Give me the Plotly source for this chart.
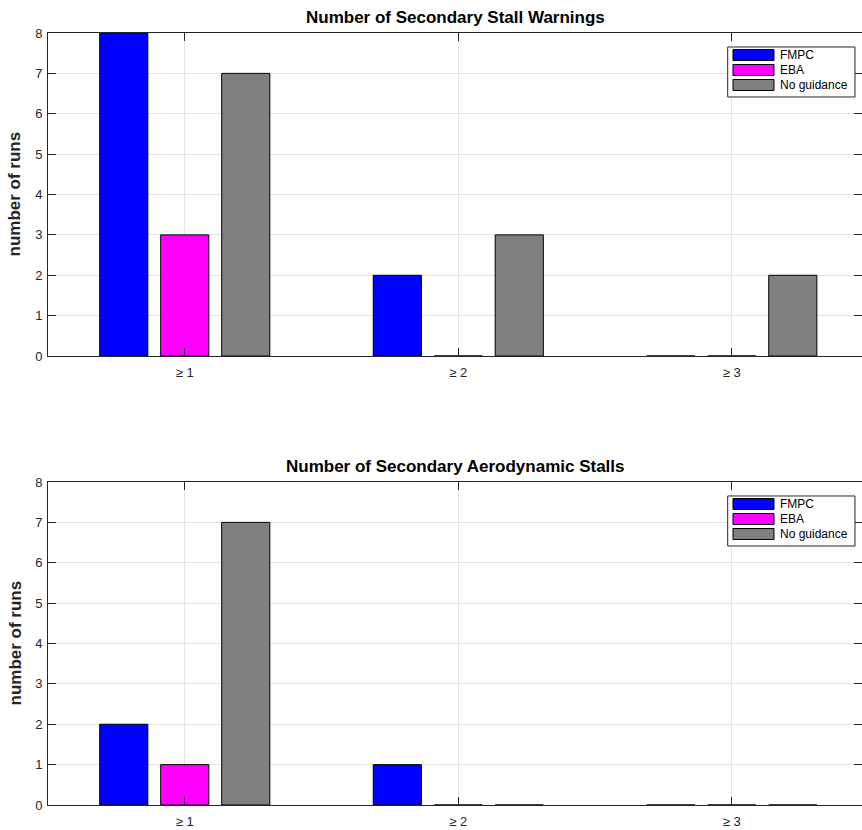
import plotly.graph_objects as go
from plotly.subplots import make_subplots

categories = ["≥ 1", "≥ 2", "≥ 3"]
series_names = ["FMPC", "EBA", "No guidance"]
series_colors = ["#0000FF", "#FF00FF", "#808080"]

warnings_fmpc = [8, 2, 0]
warnings_eba = [3, 0, 0]
warnings_none = [7, 3, 2]

stalls_fmpc = [2, 1, 0]
stalls_eba = [1, 0, 0]
stalls_none = [7, 0, 0]

titles = ["Number of Secondary Stall Warnings", "Number of Secondary Aerodynamic Stalls"]
y_title = "number of runs"
y_ticks = [0, 1, 2, 3, 4, 5, 6, 7, 8]

FONT = "Liberation Sans, Arial, Helvetica, sans-serif"
AXC = "#262626"
GRID = "#e3e3e3"

fig = make_subplots(rows=2, cols=1, vertical_spacing=0.0)

xpos = [1, 2, 3]
panels = [
    [warnings_fmpc, warnings_eba, warnings_none],
    [stalls_fmpc, stalls_eba, stalls_none],
]
for r, vals in enumerate(panels, start=1):
    for name, col, v in zip(series_names, series_colors, vals):
        fig.add_trace(
            go.Bar(
                x=xpos, y=v, name=name,
                marker=dict(color=col, line=dict(color="#000000", width=1)),
                showlegend=False,
            ),
            row=r, col=1,
        )

axis_common = dict(
    showline=True, linecolor=AXC, linewidth=1, mirror="ticks",
    ticks="inside", ticklen=8, tickcolor=AXC, tickwidth=1,
    showgrid=True, gridcolor=GRID, gridwidth=1, zeroline=False,
    tickfont=dict(family=FONT, size=13, color=AXC),
)
for r in (1, 2):
    fig.update_xaxes(
        range=[0.5, 3.476], tickvals=xpos, ticktext=categories,
        ticklabelstandoff=4, row=r, col=1, **axis_common,
    )
    fig.update_yaxes(
        range=[0, 8], tickvals=y_ticks, ticklabelstandoff=2,
        row=r, col=1, **axis_common,
    )

fig.update_layout(
    yaxis=dict(domain=[0.5816, 1.0]),
    yaxis2=dict(domain=[0.0, 0.4184]),
)

shapes = []
for i, t in enumerate(titles):
    xr = "x domain" if i == 0 else "x2 domain"
    yr = "y domain" if i == 0 else "y2 domain"
    fig.add_annotation(
        text="<b>" + t + "</b>", xref=xr, yref=yr,
        x=0.5, y=1.0, yshift=4, xanchor="center", yanchor="bottom", showarrow=False,
        font=dict(family=FONT, size=17, color="#000000"),
    )
    fig.add_annotation(
        text="<b>" + y_title + "</b>", xref=xr, yref=yr,
        x=0.0, y=0.5, xshift=-33, xanchor="center", yanchor="middle",
        textangle=-90, showarrow=False,
        font=dict(family=FONT, size=17, color=AXC),
    )
    # legend box
    shapes.append(dict(type="rect", xref=xr, yref=yr, x0=0.835, x1=0.9914,
                       y0=0.8019, y1=0.9567, line=dict(color="#262626", width=1),
                       fillcolor="#ffffff", layer="above"))
    row_centers = [0.9319, 0.8854, 0.8390]
    for name, col, yc in zip(series_names, series_colors, row_centers):
        shapes.append(dict(type="rect", xref=xr, yref=yr, x0=0.8415, x1=0.8919,
                           y0=yc - 0.0170, y1=yc + 0.0170,
                           line=dict(color="#000000", width=1), fillcolor=col, layer="above"))
        fig.add_annotation(
            text=name, xref=xr, yref=yr, x=0.8968, y=yc,
            xanchor="left", yanchor="middle", showarrow=False,
            font=dict(family=FONT, size=12, color="#000000"),
        )

fig.update_layout(
    shapes=shapes,
    barmode="group", bargap=0.331, bargroupgap=0.211,
    width=862, height=830,
    margin=dict(l=48, r=0, t=33, b=25),
    paper_bgcolor="#ffffff", plot_bgcolor="#ffffff",
    font=dict(family=FONT, size=13, color=AXC),
    showlegend=False,
)

fig.write_html("out.html")
